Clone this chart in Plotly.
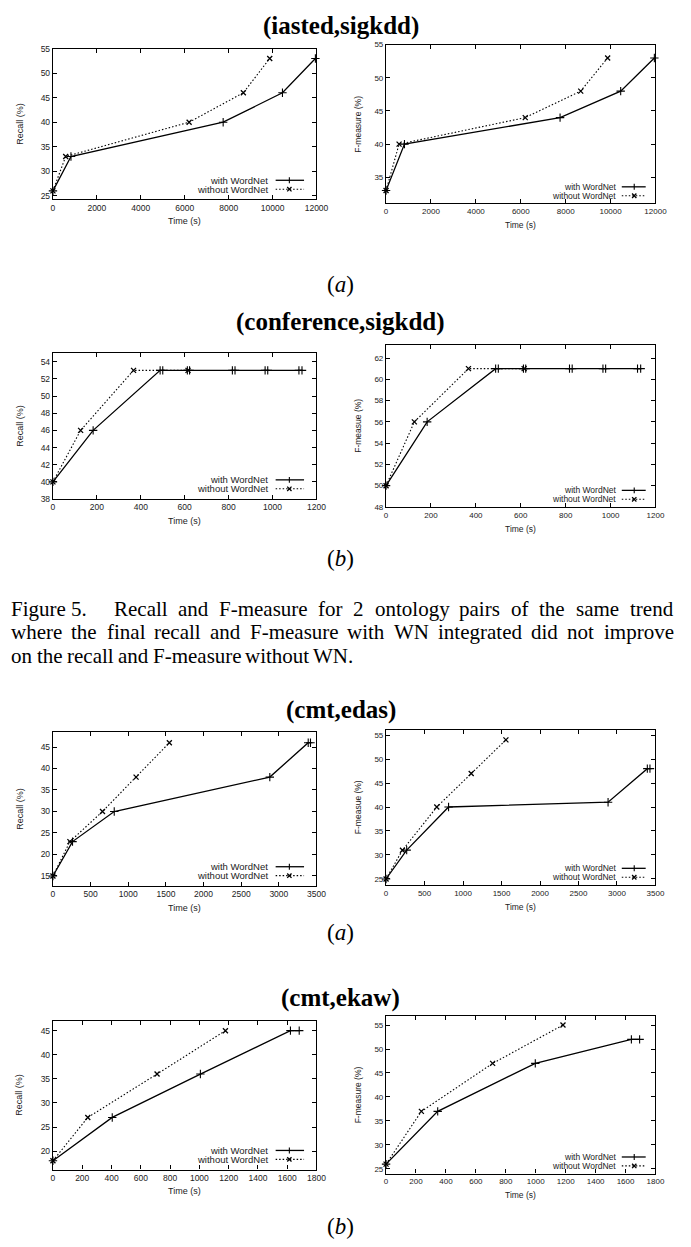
import plotly.graph_objects as go

W, H = 691, 1247

# ---------------- data ----------------
# (iasted,sigkdd)
iasted_time_with = [0, 820, 7750, 10450, 11950]
iasted_time_without = [0, 580, 6200, 8670, 9870]
iasted_recall_with = [26, 33, 40, 46, 53]
iasted_recall_without = [26, 33, 40, 46, 53]
iasted_fmeas_with = [33, 40, 44, 48, 53]
iasted_fmeas_without = [33, 40, 44, 48, 53]

# (conference,sigkdd)
conf_time_with = [0, 183, 488, 500, 612, 622, 817, 829, 966, 978, 1120, 1134]
conf_time_without = [0, 126, 367, 615]
conf_recall_with = [40, 46, 53, 53, 53, 53, 53, 53, 53, 53, 53, 53]
conf_recall_without = [40, 46, 53, 53]
conf_fmeas_with = [50, 56, 61, 61, 61, 61, 61, 61, 61, 61, 61, 61]
conf_fmeas_without = [50, 56, 61, 61]

# (cmt,edas)
edas_rec_time_with = [0, 260, 814, 2880, 3390, 3420]
edas_rec_with = [15, 23, 30, 38, 46, 46]
edas_rec_time_without = [0, 225, 658, 1104, 1546]
edas_rec_without = [15, 23, 30, 38, 46]
edas_f_time_with = [0, 268, 812, 2884, 3394, 3428]
edas_f_with = [25, 31, 40, 41, 48, 48]
edas_f_time_without = [0, 213, 659, 1106, 1557]
edas_f_without = [25, 31, 40, 47, 54]

# (cmt,ekaw)
ekaw_rec_time_with = [0, 405, 1007, 1622, 1682]
ekaw_rec_with = [18, 27, 36, 45, 45]
ekaw_rec_time_without = [0, 238, 711, 1178]
ekaw_rec_without = [18, 27, 36, 45]
ekaw_f_time_with = [0, 345, 997, 1639, 1694]
ekaw_f_with = [26, 37, 47, 52, 52]
ekaw_f_time_without = [0, 236, 712, 1182]
ekaw_f_without = [26, 37, 47, 55]

series_names = ["with WordNet", "without WordNet"]
x_label = "Time (s)"
group_titles = ["(iasted,sigkdd)", "(conference,sigkdd)", "(cmt,edas)", "(cmt,ekaw)"]
sub_labels = ["a", "b", "a", "b"]
caption_lines = [
    ["Recall", "and", "F-measure", "for", "2", "ontology", "pairs", "of", "the", "same", "trend"],
    ["where", "the", "final", "recall", "and", "F-measure", "with", "WN", "integrated", "did", "not", "improve"],
    ["on", "the", "recall", "and", "F-measure", "without", "WN."],
]
caption_head = "Figure 5."

# ---------------- layout config ----------------
panels = [
    dict(frame=(52, 321, 44, 196), xr=[0, 12000], yr=[24.25, 55], dx=2000, dy=5, yl="Recall (%)",
         tw=iasted_time_with, vw=iasted_recall_with, to=iasted_time_without, vo=iasted_recall_without, side="L"),
    dict(frame=(392, 667, 40, 200), xr=[0, 12000], yr=[31.06, 55], dx=2000, dy=5, yl="F-measure (%)",
         tw=iasted_time_with, vw=iasted_fmeas_with, to=iasted_time_without, vo=iasted_fmeas_without, side="R"),
    dict(frame=(52, 321, 351, 498), xr=[0, 1200], yr=[38, 55], dx=200, dy=2, yl="Recall (%)",
         tw=conf_time_with, vw=conf_recall_with, to=conf_time_without, vo=conf_recall_without, side="L"),
    dict(frame=(392, 667, 343, 506), xr=[0, 1200], yr=[48, 63.2], dx=200, dy=2, yl="F-measue (%)",
         tw=conf_time_with, vw=conf_fmeas_with, to=conf_time_without, vo=conf_fmeas_without, side="R"),
    dict(frame=(52, 321, 733, 888), xr=[0, 3500], yr=[12.7, 48.46], dx=500, dy=5, yl="Recall (%)",
         tw=edas_rec_time_with, vw=edas_rec_with, to=edas_rec_time_without, vo=edas_rec_without, side="L"),
    dict(frame=(392, 667, 731, 887), xr=[0, 3500], yr=[23.76, 56.03], dx=500, dy=5, yl="F-measue (%)",
         tw=edas_f_time_with, vw=edas_f_with, to=edas_f_time_without, vo=edas_f_without, side="R"),
    dict(frame=(52, 321, 1024, 1174), xr=[0, 1800], yr=[16.18, 47.05], dx=200, dy=5, yl="Recall (%)",
         tw=ekaw_rec_time_with, vw=ekaw_rec_with, to=ekaw_rec_time_without, vo=ekaw_rec_without, side="L"),
    dict(frame=(392, 667, 1019, 1178), xr=[0, 1800], yr=[24.03, 56.92], dx=200, dy=5, yl="F-measure (%)",
         tw=ekaw_f_time_with, vw=ekaw_f_with, to=ekaw_f_time_without, vo=ekaw_f_without, side="R"),
]
title_y = [21, 320, 711, 1001]
sub_y = [282, 558, 935, 1231]


def px(x):
    return x / W


def py(y):
    return 1 - y / H


fig = go.Figure()
annotations = []
shapes = []
layout = {}

SANS = "Liberation Sans, Arial, sans-serif"
SERIF = "Liberation Serif, Times New Roman, serif"
TXT = "#222222"

for i, p in enumerate(panels):
    n = "" if i == 0 else str(i + 1)
    x0, x1, y0, y1 = p["frame"]
    left = p["side"] == "L"
    tfs = 8.5 if left else 8
    afs = 9 if left else 8.5
    lfs = 9.5 if left else 8.5
    common = dict(ticks="inside", ticklen=4, tickwidth=1, tickcolor="black", showline=True,
                  linecolor="black", linewidth=1.3, mirror="allticks", showgrid=False, zeroline=False,
                  tickfont=dict(family=SANS, size=tfs, color=TXT), tick0=0, tickformat="d")
    layout["xaxis" + n] = dict(domain=[px(x0), px(x1)], range=p["xr"], dtick=p["dx"],
                               anchor="y" + n, **common)
    layout["yaxis" + n] = dict(domain=[py(y1), py(y0)], range=p["yr"], dtick=p["dy"],
                               anchor="x" + n, **common)
    fig.add_trace(go.Scatter(x=p["tw"], y=p["vw"], xaxis="x" + n, yaxis="y" + n, mode="lines+markers",
                             line=dict(color="black", width=1.3),
                             marker=dict(symbol="cross-thin-open", size=6, line=dict(color="black", width=1.1)),
                             cliponaxis=False, showlegend=False, name=series_names[0]))
    fig.add_trace(go.Scatter(x=p["to"], y=p["vo"], xaxis="x" + n, yaxis="y" + n, mode="lines+markers",
                             line=dict(color="black", width=1.1, dash="1.5px,2px"),
                             marker=dict(symbol="x-thin-open", size=5, line=dict(color="black", width=1.3)),
                             cliponaxis=False, showlegend=False, name=series_names[1]))
    # axis labels
    ylx = 18 if left else 363
    annotations.append(dict(x=px(ylx), y=py((y0 + y1) / 2), xref="paper", yref="paper", text=p["yl"],
                            textangle=-90, showarrow=False, font=dict(family=SANS, size=afs, color=TXT),
                            xanchor="center", yanchor="middle"))
    annotations.append(dict(x=px((x0 + x1) / 2), y=py(y1 + 22), xref="paper", yref="paper", text=x_label,
                            showarrow=False, font=dict(family=SANS, size=afs, color=TXT),
                            xanchor="center", yanchor="middle"))
    # legend (gnuplot style: text then sample)
    if left:
        rows = [y1 - 19.3, y1 - 10.3]
        tx, la, lb, mk = x1 - 47, x1 - 41.7, x1 - 12.7, x1 - 27.7
    else:
        rows = [y1 - 16.7, y1 - 7.7]
        tx, la, lb, mk = x1 - 38.4, x1 - 34.4, x1 - 10, x1 - 21.7
    for k, ry in enumerate(rows):
        annotations.append(dict(x=px(tx), y=py(ry), xref="paper", yref="paper", text=series_names[k],
                                showarrow=False, font=dict(family=SANS, size=lfs, color=TXT),
                                xanchor="right", yanchor="middle"))
        if k == 0:
            shapes.append(dict(type="line", xref="paper", yref="paper", x0=px(la), x1=px(lb), y0=py(ry), y1=py(ry),
                               line=dict(color="black", width=1.3)))
            shapes.append(dict(type="line", xref="paper", yref="paper", x0=px(mk), x1=px(mk),
                               y0=py(ry - 3), y1=py(ry + 3), line=dict(color="black", width=1.1)))
        else:
            shapes.append(dict(type="line", xref="paper", yref="paper", x0=px(la), x1=px(lb), y0=py(ry), y1=py(ry),
                               line=dict(color="black", width=1.1, dash="1.5px,2px")))
            shapes.append(dict(type="line", xref="paper", yref="paper", x0=px(mk - 2.2), x1=px(mk + 2.2),
                               y0=py(ry - 2.2), y1=py(ry + 2.2), line=dict(color="black", width=1.3)))
            shapes.append(dict(type="line", xref="paper", yref="paper", x0=px(mk - 2.2), x1=px(mk + 2.2),
                               y0=py(ry + 2.2), y1=py(ry - 2.2), line=dict(color="black", width=1.3)))

# group titles and sub labels
for t, ty in zip(group_titles, title_y):
    annotations.append(dict(x=0.5, y=py(ty), xref="paper", yref="paper", text="<b>" + t + "</b>",
                            showarrow=False, font=dict(family=SERIF, size=25, color="black"),
                            xanchor="center", yanchor="middle"))
for s, sy in zip(sub_labels, sub_y):
    annotations.append(dict(x=0.5, y=py(sy), xref="paper", yref="paper", text="(<i>" + s + "</i>)",
                            showarrow=False, font=dict(family=SERIF, size=23, color="black"),
                            xanchor="center", yanchor="middle"))

# caption with justified lines (Times metrics; Liberation Serif is metric compatible)
TW = dict(a=444, b=500, c=444, d=500, e=444, f=333, g=500, h=500, i=278, j=278, k=500, l=278, m=778,
          n=500, o=500, p=500, q=500, r=333, s=389, t=278, u=500, v=500, w=722, x=500, y=500, z=444)
TW.update({"F": 556, "R": 667, "W": 944, "N": 722, "2": 500, "5": 500, ".": 250, "-": 333, " ": 250})
CFS = 21


def wwidth(wd):
    return sum(TW[c] for c in wd) / 1000.0 * CFS


cap_left, cap_right = 8, 683
cap_y = [609, 632.5, 656]


def cap_word(txt, x, y):
    annotations.append(dict(x=px(x), y=py(y), xref="paper", yref="paper", text=txt, showarrow=False,
                            font=dict(family=SERIF, size=CFS, color="black"), xanchor="left",
                            yanchor="middle", borderpad=0))


cap_word(caption_head, cap_left, cap_y[0])
starts = [cap_left + wwidth(caption_head) + CFS * 1.4, cap_left, cap_left]
for li, words in enumerate(caption_lines):
    widths = [wwidth(w) for w in words]
    if li < 2:
        gap = (cap_right - starts[li] - sum(widths)) / (len(words) - 1)
    else:
        gap = TW[" "] / 1000.0 * CFS
    xx = starts[li]
    for w, wd in zip(words, widths):
        cap_word(w, xx, cap_y[li])
        xx += wd + gap

fig.update_layout(width=W, height=H, margin=dict(l=0, r=0, t=0, b=0), paper_bgcolor="white",
                  plot_bgcolor="white", showlegend=False, annotations=annotations, shapes=shapes, **layout)
fig.write_html("out.html")
